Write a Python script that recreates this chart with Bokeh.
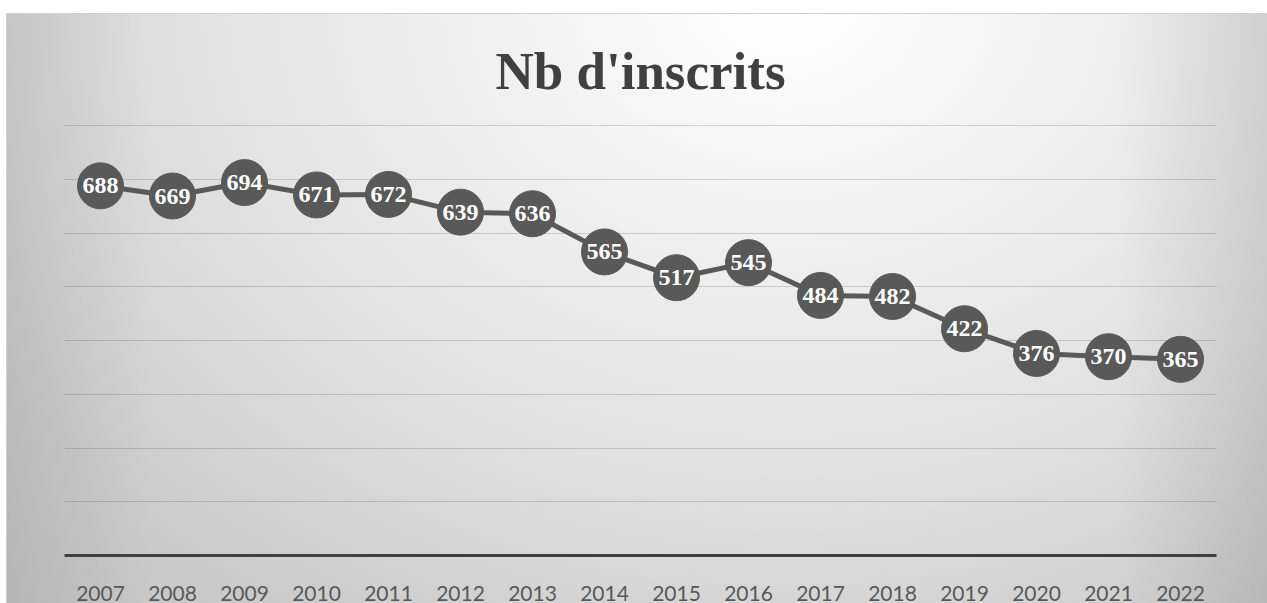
from bokeh.plotting import figure
from bokeh.models import FactorRange, Range1d, FixedTicker, Title
from bokeh.core.properties import value
from bokeh.embed import file_html
from bokeh.resources import INLINE

years = ["2007", "2008", "2009", "2010", "2011", "2012", "2013", "2014",
         "2015", "2016", "2017", "2018", "2019", "2020", "2021", "2022"]
inscrits = [688, 669, 694, 671, 672, 639, 636, 565,
            517, 545, 484, 482, 422, 376, 370, 365]
grid_ticks = [100, 200, 300, 400, 500, 600, 700, 800]
title_text = "Nb d'inscrits"

W, H = 1267, 603
p = figure(width=W, height=H, x_range=FactorRange(*years, range_padding=0),
           y_range=Range1d(0, 830), output_backend="svg", toolbar_location=None,
           min_border_left=64, min_border_right=51, min_border_top=109,
           min_border_bottom=48)

p.styles = {
    "background": (
        "linear-gradient(#ffffff,#ffffff) 0 0/100% 13px no-repeat, "
        "linear-gradient(#ffffff,#ffffff) 0 0/6px 100% no-repeat, "
        "linear-gradient(#d0d0d0,#d0d0d0) 6px 13px/100% 1px no-repeat, "
        "linear-gradient(#d0d0d0,#d0d0d0) 6px 13px/1px 100% no-repeat, "
        "linear-gradient(to right, rgba(0,0,0,0.08) 0%, rgba(0,0,0,0) 12%, rgba(0,0,0,0) 88%, rgba(0,0,0,0.10) 100%), "
        "radial-gradient(ellipse 85% 140% at 62% 0%, #ffffff 0%, #f2f2f2 25%, #e2e2e2 55%, #cbcbcb 85%, #c4c4c4 100%)"
    )
}
p.border_fill_color = None
p.background_fill_color = None
p.outline_line_color = None

p.title = Title(text=title_text, align="center",
                text_font="Liberation Serif", text_font_size="53px",
                text_font_style="bold", text_color="#404040", standoff=19, offset=0)

# grid
p.xgrid.grid_line_color = None
p.ygrid.ticker = FixedTicker(ticks=grid_ticks)
p.ygrid.grid_line_color = "black"
p.ygrid.grid_line_alpha = 0.15
p.ygrid.grid_line_width = 1.2

p.yaxis.visible = False
ax = p.xaxis[0]
ax.axis_line_color = "#404040"
ax.axis_line_width = 3
ax.major_tick_line_color = None
ax.minor_tick_line_color = None
ax.major_label_text_font = "Lato"
ax.major_label_text_font_size = "21px"
ax.major_label_text_color = "#595959"
ax.major_label_standoff = 24

p.line(years, inscrits, line_color="#595959", line_width=5)
p.scatter(years, inscrits, size=46, fill_color="#595959", line_color="#595959")
p.text(years, inscrits, text=[str(v) for v in inscrits],
       text_font=value("Liberation Serif"), text_font_style="bold",
       text_font_size="24px", text_color="white",
       text_align="center", text_baseline="middle")

open("out.html", "w").write(file_html(p, INLINE))
